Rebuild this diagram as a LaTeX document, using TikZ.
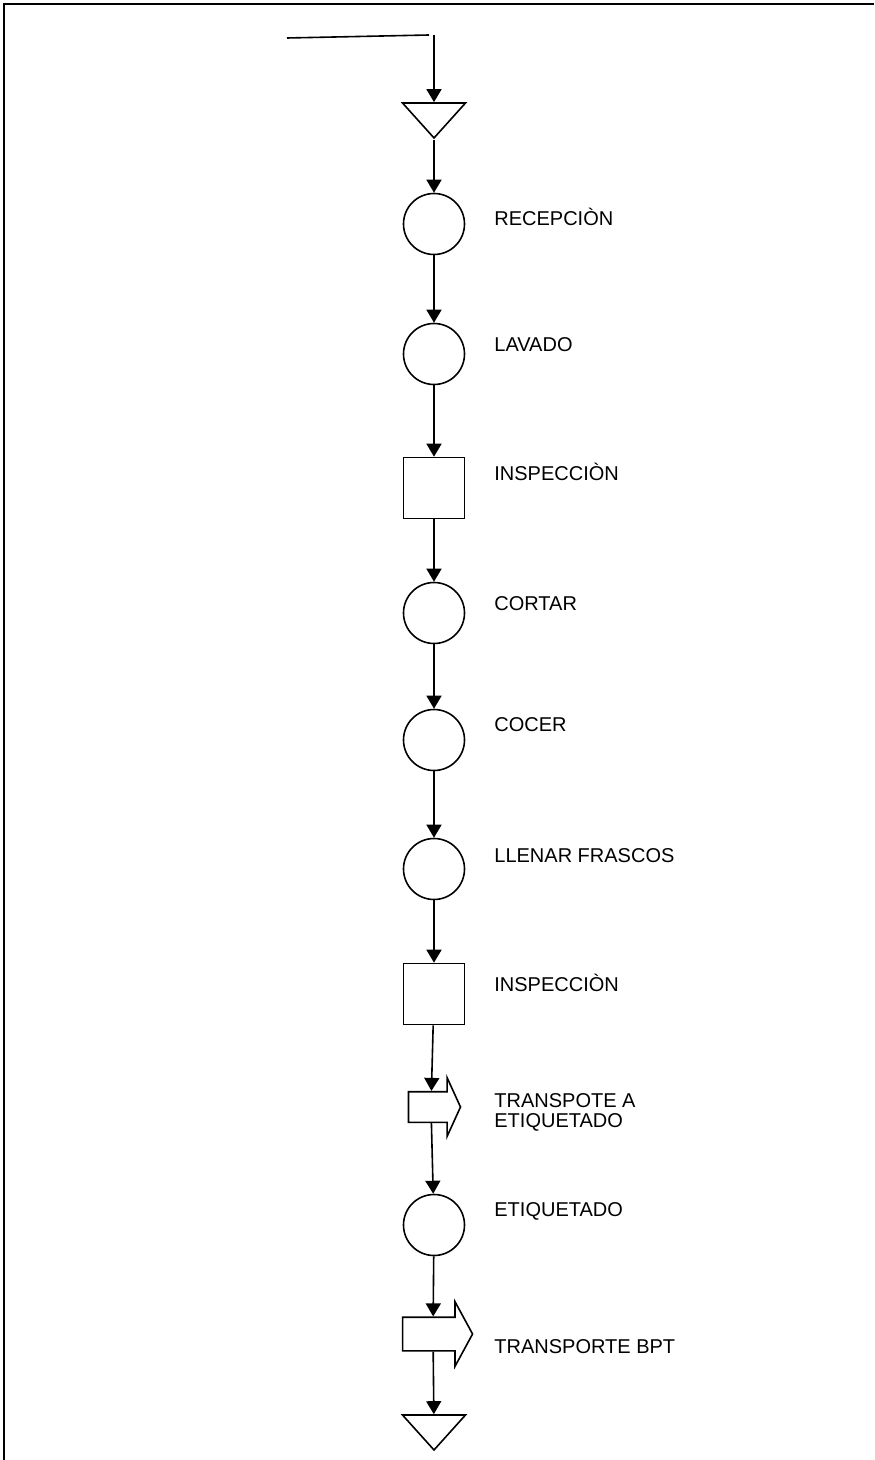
\documentclass[tikz,border=0pt]{standalone}
\usepackage{fontspec}
\setmainfont{Liberation Sans}
\usepackage{tikz}
\usetikzlibrary{arrows.meta,shapes.geometric,shapes.arrows}
\tikzstyle{flow}=[-{Triangle[length=6.5pt,width=7.5pt]}, line width=0.8pt]
\tikzstyle{edge}=[line width=0.8pt]
\tikzstyle{frame}=[line width=1pt]
\tikzstyle{op}=[circle, draw, line width=0.8pt, inner sep=0pt, minimum size=30.5pt]
\tikzstyle{insp}=[rectangle, draw, line width=0.8pt, inner sep=0pt, minimum size=30.5pt]
\tikzstyle{store}=[isosceles triangle, isosceles triangle stretches, shape border rotate=270, draw, line width=0.8pt, inner sep=0pt, minimum width=31.5pt, minimum height=17.5pt]
\tikzstyle{move}=[single arrow, draw, line width=0.8pt, inner xsep=0pt]
\tikzstyle{lbl}=[anchor=west, inner sep=0pt, align=left, font=\fontsize{10}{10}\selectfont]

\begin{document}
\begin{tikzpicture}[x=0.5pt,y=-0.5pt]
				\useasboundingbox (0,0) rectangle (874,1460);
				%The frame
				\draw[frame] (4,1460) -- (4,4) -- (874,4);
				
				%Incoming line
				\coordinate (src) at (287,38);
				\coordinate (drop) at (429,35);
				\coordinate (feed) at (434,35);
				\draw[edge] (src) -- (drop);
				
				%The symbols
				\draw (434,117) node[store] (t0) {};
				\draw (434,224) node[op] (c1) {};
				\draw (434,354) node[op] (c2) {};
				\draw (434,488) node[insp] (s1) {};
				\draw (434,613) node[op] (c3) {};
				\draw (434,740) node[op] (c4) {};
				\draw (434,869) node[op] (c5) {};
				\draw (434,994) node[insp] (s2) {};
				\draw (431,1107) node[move, inner ysep=7.25pt, minimum height=26pt, single arrow head extend=7pt, single arrow tip angle=131] (a1) {};
				\draw (434,1225) node[op] (c6) {};
				\draw (433,1334) node[move, inner ysep=8pt, minimum height=35pt, single arrow head extend=7.75pt, single arrow tip angle=123] (a2) {};
				\draw (434,1429) node[store] (t1) {};
				
				%The labels
				\draw (494,217) node[lbl] (l1) {RECEPCIÒN};
				\draw (494,345) node[lbl] (l2) {LAVADO};
				\draw (494,472) node[lbl] (l3) {INSPECCIÒN};
				\draw (494,604) node[lbl] (l4) {CORTAR};
				\draw (494,725) node[lbl] (l5) {COCER};
				\draw (494,856) node[lbl] (l6) {LLENAR FRASCOS};
				\draw (494,983) node[lbl] (l7) {INSPECCIÒN};
				\draw (494,1112) node[lbl] (l8) {TRANSPOTE A\\ETIQUETADO};
				\draw (494,1211) node[lbl] (l9) {ETIQUETADO};
				\draw (494,1347) node[lbl] (l10) {TRANSPORTE BPT};
				
				%The flow
				\draw[flow] (feed) -- (t0);
				\draw[flow] (t0) -- (c1);
				\draw[flow] (c1) -- (c2);
				\draw[flow] (c2) -- (s1);
				\draw[flow] (s1) -- (c3);
				\draw[flow] (c3) -- (c4);
				\draw[flow] (c4) -- (c5);
				\draw[flow] (c5) -- (s2);
				\draw[flow] (s2) -- (a1);
				\draw[flow] (a1) -- (c6);
				\draw[flow] (c6) -- (a2);
				\draw[flow] (a2) -- (t1);
			\end{tikzpicture}
\end{document}
